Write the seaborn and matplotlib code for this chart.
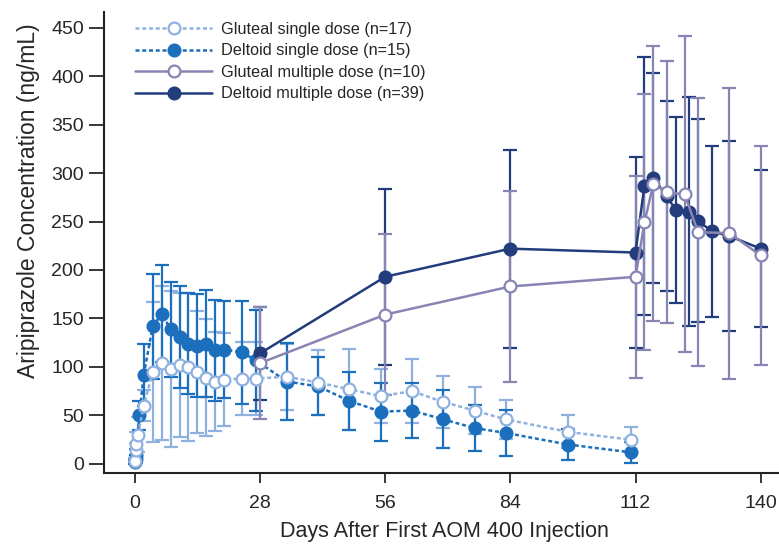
import numpy as np
import pandas as pd
import seaborn as sns
import matplotlib
matplotlib.use('Agg')
import matplotlib.pyplot as plt

sns.set_style('ticks')
plt.rcParams['font.family'] = ['Liberation Sans', 'DejaVu Sans']

# ---------------------------------------------------------------
# data (mean and SD, ng/mL)
# ---------------------------------------------------------------
glut_single_days = [0, 0.17, 0.33, 0.67, 2, 4, 6, 8, 10, 12, 14, 16, 18, 20, 24, 27,
                    34, 41, 48, 55, 62, 69, 76, 83, 97, 111]
glut_single_mean = [3, 14, 21, 30, 60, 95, 104, 98, 102, 100, 95, 89, 85, 87, 88, 88,
                    90, 84, 77, 70, 75, 64, 55, 46, 33, 25]
glut_single_sd = [3, 8, 12, 18, 16, 72, 79, 80, 74, 76, 63, 60, 51, 48, 38, 38,
                  34, 34, 42, 28, 33, 27, 24, 20, 17, 13]

delt_single_days = [0, 0.17, 0.33, 1, 2, 4, 6, 8, 10, 12, 14, 16, 18, 20, 24, 27,
                    34, 41, 48, 55, 62, 69, 76, 83, 97, 111]
delt_single_mean = [2, 5, 9, 50, 92, 142, 155, 139, 131, 124, 122, 124, 117, 118, 115, 107,
                    85, 80, 65, 54, 55, 46, 37, 32, 20, 12]
delt_single_sd = [2, 4, 6, 15, 32, 54, 50, 49, 53, 52, 53, 55, 52, 50, 53, 52,
                  40, 30, 30, 30, 28, 30, 24, 24, 16, 11]

glut_multi_days = [28, 56, 84, 112, 114, 116, 119, 123, 126, 133, 140]
glut_multi_mean = [104, 154, 183, 193, 249, 289, 280, 278, 239, 238, 215]
glut_multi_sd = [58, 83, 98, 104, 132, 142, 135, 163, 138, 150, 113]

delt_multi_days = [28, 56, 84, 112, 114, 116, 119, 121, 124, 126, 129, 133, 140]
delt_multi_mean = [114, 193, 222, 218, 287, 295, 276, 262, 260, 251, 240, 235, 222]
delt_multi_sd = [48, 91, 102, 98, 133, 108, 98, 96, 118, 105, 88, 98, 81]

# label, days, mean, sd, colour, line style, marker face, bar zorder, line zorder
series = [
    ('Gluteal single dose (n=17)', glut_single_days, glut_single_mean, glut_single_sd,
     '#8fb1e0', (0, (1.6, 1.1)), 'white', 2, 7),
    ('Deltoid single dose (n=15)', delt_single_days, delt_single_mean, delt_single_sd,
     '#1b6fbd', (0, (1.6, 1.1)), '#1b6fbd', 3, 6),
    ('Gluteal multiple dose (n=10)', glut_multi_days, glut_multi_mean, glut_multi_sd,
     '#8785b3', '-', 'white', 5, 9),
    ('Deltoid multiple dose (n=39)', delt_multi_days, delt_multi_mean, delt_multi_sd,
     '#233c7c', '-', '#233c7c', 4, 8),
]

fig = plt.figure(figsize=(7.79, 5.44), dpi=100)
ax = fig.add_axes([104 / 779, 1 - 473 / 544, 1 - 104 / 779, (473 - 12) / 544])

for label, days, mean, sd, color, ls, face, zb, zl in series:
    df = pd.DataFrame({'day': days, 'conc': mean})
    ax.errorbar(days, mean, yerr=sd, fmt='none', ecolor=color, elinewidth=1.6,
                capsize=5, capthick=1.6, zorder=zb)
    sns.lineplot(data=df, x='day', y='conc', ax=ax, errorbar=None, label=label,
                 color=color, linestyle=ls, linewidth=1.8, marker='o', markersize=8.5,
                 markerfacecolor=face, markeredgecolor=color, markeredgewidth=1.6,
                 zorder=zl)

ax.set_xlim(-6.9, 144.1)
ax.set_ylim(-9.3, 466)
ax.set_xticks([0, 28, 56, 84, 112, 140])
ax.set_yticks(np.arange(0, 451, 50))
ax.tick_params(axis='both', labelsize=14, width=1.3, direction='out')
ax.tick_params(axis='x', length=7, pad=9)
ax.tick_params(axis='y', length=11, pad=3.5)
ax.set_xlabel('Days After First AOM 400 Injection', fontsize=15.5)
ax.set_ylabel('Aripiprazole Concentration (ng/mL)', fontsize=16.5)
ax.xaxis.set_label_coords(0.505, -0.104)
ax.yaxis.set_label_coords(-0.095, 0.59)

sns.despine(ax=ax)
for s in ['left', 'bottom']:
    ax.spines[s].set_linewidth(1.5)
    ax.spines[s].set_color('#222222')

ax.legend(loc='upper left', bbox_to_anchor=(0.032, 1.0), frameon=False, fontsize=11.7,
          handlelength=4.7, labelspacing=0.4, borderaxespad=0.2, handletextpad=0.6)

fig.savefig('out.png', dpi=100)
